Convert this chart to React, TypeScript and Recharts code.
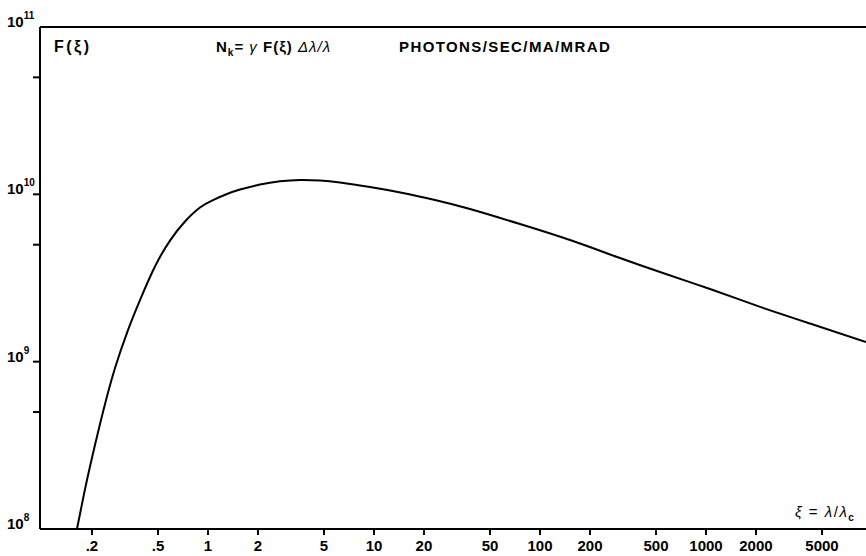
import React from "react";
import { LineChart, Line, XAxis, YAxis, ReferenceLine } from "recharts";

// ξ = λ/λc
const xiValues = [
  0.1625, 0.1791, 0.2, 0.2331, 0.2754, 0.3297, 0.3895, 0.4794, 0.5904, 0.7268, 0.8951,
  1.072, 1.302, 1.559, 2.057, 2.715, 3.583, 4.728, 6.241, 9.461, 14.95, 23.31, 37.88,
  75.8, 151.6, 303.3, 528.3, 1057, 2057, 4231, 9204,
];
// F(ξ)
const fValues = [
  1.0e8, 1.617e8, 2.653e8, 4.996e8, 9.156e8, 1.545e9, 2.334e9, 3.702e9, 5.293e9, 6.878e9, 8.34e9,
  9.245e9, 1.004e10, 1.068e10, 1.144e10, 1.196e10, 1.218e10, 1.209e10, 1.176e10, 1.105e10, 1.018e10, 9.245e9, 8.168e9,
  6.645e9, 5.33e9, 4.161e9, 3.432e9, 2.716e9, 2.149e9, 1.69e9, 1.309e9,
];

const xTicks = [0.2, 0.5, 1, 2, 5, 10, 20, 50, 100, 200, 500, 1000, 2000, 5000];
const xTickLabels = [".2", ".5", "1", "2", "5", "10", "20", "50", "100", "200", "500", "1000", "2000", "5000"];
const xDomain = [0.0973, 9200];

const yTicks = [1e8, 5e8, 1e9, 5e9, 1e10, 5e10, 1e11];
const yTickExponents = ["8", "", "9", "", "10", "", "11"];
const yDomain = [1e8, 1e11];

const data = xiValues.map((xi, i) => ({ xi, F: fValues[i] }));

const FONT = "'Liberation Sans', Arial, Helvetica, sans-serif";

const XTick = (props: any) => {
  const { x, y, payload } = props;
  const idx = xTicks.indexOf(payload.value);
  return (
    <text x={x} y={y} dy={14} textAnchor="middle" fontFamily={FONT} fontWeight={700} fontSize={15} fill="#000">
      {idx >= 0 ? xTickLabels[idx] : ""}
    </text>
  );
};

const YTick = (props: any) => {
  const { x, y, payload } = props;
  const idx = yTicks.indexOf(payload.value);
  const exp = idx >= 0 ? yTickExponents[idx] : "";
  const isCorner = payload.value === yDomain[0] || payload.value === yDomain[1];
  return (
    <g>
      {!isCorner && <line x1={x} x2={x + 7} y1={y} y2={y} stroke="#000" strokeWidth={2} />}
      {exp && (
        <text x={x - 26} y={y} dy={0} textAnchor="start" fontFamily={FONT} fontWeight={700} fontSize={15} fill="#000">
          <tspan>10</tspan>
          <tspan dy={-8} fontSize={10}>{exp}</tspan>
        </text>
      )}
    </g>
  );
};

export default function App() {
  return (
    <div style={{ position: "absolute", left: 0, top: 0, width: 866, height: 556, background: "#fff", fontFamily: FONT }}>
      <LineChart width={866} height={556} data={data} margin={{ top: 27, right: 0, bottom: 0, left: 0 }}>
        <XAxis
          dataKey="xi"
          type="number"
          scale="log"
          domain={xDomain}
          allowDataOverflow
          ticks={xTicks}
          interval={0}
          height={27}
          tickSize={6}
          tickMargin={2}
          axisLine={{ stroke: "#000", strokeWidth: 2 }}
          tickLine={{ stroke: "#000", strokeWidth: 2 }}
          tick={<XTick />}
        />
        <YAxis
          dataKey="F"
          type="number"
          scale="log"
          domain={yDomain}
          allowDataOverflow
          ticks={yTicks}
          interval={0}
          width={40}
          tickSize={7}
          tickMargin={0}
          axisLine={{ stroke: "#000", strokeWidth: 2 }}
          tickLine={false}
          tick={<YTick />}
        />
        <ReferenceLine y={1e11} stroke="#000" strokeWidth={2} />
        <Line
          type="natural"
          dataKey="F"
          stroke="#000"
          strokeWidth={2}
          dot={false}
          isAnimationActive={false}
        />
      </LineChart>
      <div style={{ position: "absolute", left: 54, top: 38, fontSize: 16, fontWeight: 700, lineHeight: "18px", letterSpacing: 2.5, whiteSpace: "nowrap" }}>
        F(ξ)
      </div>
      <div style={{ position: "absolute", left: 216, top: 38, fontSize: 15, fontWeight: 700, lineHeight: "18px", letterSpacing: 1, whiteSpace: "nowrap" }}>
        N<sub style={{ fontSize: 10 }}>k</sub>= <span style={{ fontWeight: 400, fontStyle: "italic" }}>γ</span> F(ξ) <span style={{ fontWeight: 400, fontStyle: "italic" }}>Δλ/λ</span>
      </div>
      <div style={{ position: "absolute", left: 399, top: 38, fontSize: 15, fontWeight: 700, lineHeight: "18px", letterSpacing: 1.4, whiteSpace: "nowrap" }}>
        PHOTONS/SEC/MA/MRAD
      </div>
      <div style={{ position: "absolute", left: 795, top: 503, fontSize: 15, lineHeight: "18px", letterSpacing: 1.5, whiteSpace: "nowrap" }}>
        <span style={{ fontStyle: "italic" }}>ξ</span> = <span style={{ fontStyle: "italic" }}>λ</span>/<span style={{ fontStyle: "italic" }}>λ</span>
        <sub style={{ fontSize: 10, fontWeight: 700 }}>c</sub>
      </div>
    </div>
  );
}
